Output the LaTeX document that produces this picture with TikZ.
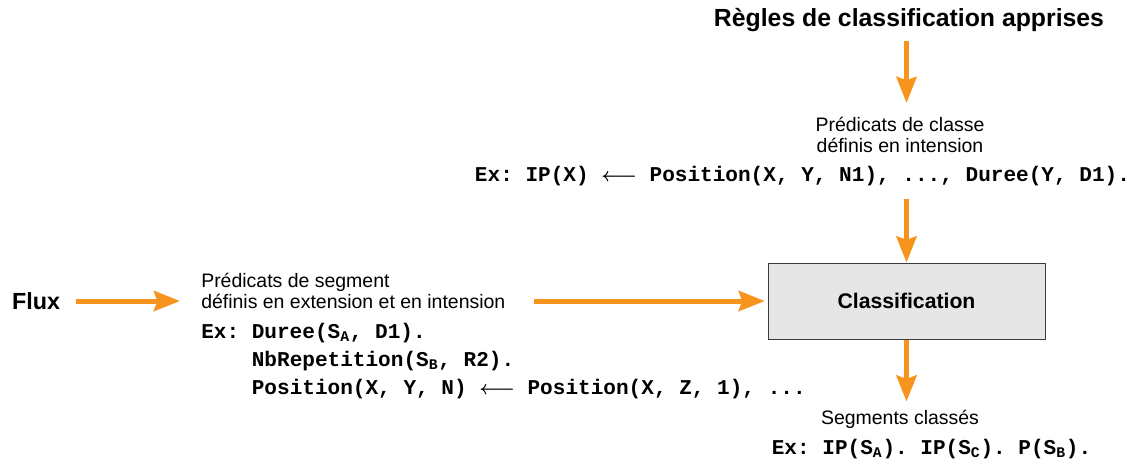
\documentclass[tikz,border=0pt]{standalone}
\usepackage{fontspec}
\setmainfont{Liberation Sans}
\setmonofont{Liberation Mono}
\usetikzlibrary{arrows.meta,positioning}
\definecolor{arrorange}{RGB}{247,148,29}
\definecolor{boxgray}{RGB}{230,230,230}
\definecolor{linegray}{RGB}{60,60,60}

\begin{document}
\begin{tikzpicture}[
  x=0.75pt, y=-0.75pt,
  title/.style={inner sep=0pt, font=\fontsize{18.6}{22}\selectfont\bfseries},
  lbl/.style={inner sep=0pt, align=center, font=\fontsize{14.6}{15.75}\selectfont},
  code/.style={inner sep=0pt, align=left, font=\fontsize{15.8}{21}\selectfont\ttfamily\bfseries\boldmath},
  box/.style={rectangle, draw=linegray, fill=boxgray, line width=0.75pt, minimum width=207.75pt, minimum height=57pt, font=\fontsize{15.9}{18}\selectfont\bfseries},
  arr/.style={-{Stealth[length=19.5pt,width=15pt,inset=2.5pt]}, draw=arrorange, line width=3.75pt}
]
\useasboundingbox (0,0) rectangle (1135,465);

% learned rules and class predicates
\node[title] (rules) at (909,20) {Règles de classification apprises};
\node[lbl] (classpred) at (900,135) {Prédicats de classe\\définis en intension};
\node[code] (classex) at (802.5,176) {Ex: IP(X) $\longleftarrow$ Position(X, Y, N1), ..., Duree(Y, D1).};

% classifier
\node[box] (classif) at (906.5,301) {Classification};

% input stream and segment predicates
\node[title, font=\fontsize{17.5}{20}\selectfont\bfseries] (flux) at (36,301) {Flux};
\node[lbl, align=left, anchor=west] (segpred) at (201,291) {Prédicats de segment\\définis en extension et en intension};
\node[code, anchor=west] (segex) at (201,361) {Ex: Duree(S\textsubscript{A}, D1).\\
  \hphantom{Ex: }NbRepetition(S\textsubscript{B}, R2).\\
  \hphantom{Ex: }Position(X, Y, N) $\longleftarrow$ Position(X, Z, 1), ...};

% output
\node[lbl] (segout) at (900,419) {Segments classés};
\node[code] (outex) at (931.5,449) {Ex: IP(S\textsubscript{A}). IP(S\textsubscript{C}). P(S\textsubscript{B}).};

\draw[arr, shorten <=6.75pt, shorten >=10.5pt] (rules.south -| classif.north) -- (classpred.north -| classif.north);
\draw[arr, shorten <=10pt] (classex.south -| classif.north) -- (classif.north);
\draw[arr, shorten >=6pt] (classif.south) -- (segout.north -| classif.south);
\draw[arr, shorten <=12pt, shorten >=15.75pt] (flux.east) -- (flux.east -| segpred.west);
\draw[arr, shorten <=21pt, shorten >=2pt] (segpred.east |- classif.west) -- (classif.west);
\end{tikzpicture}
\end{document}
